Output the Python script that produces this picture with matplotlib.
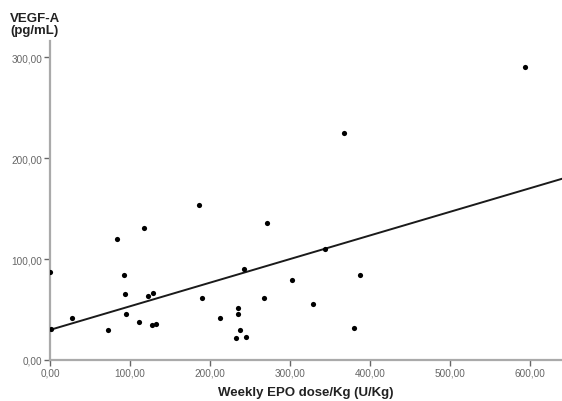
import numpy as np
import matplotlib.pyplot as plt
from matplotlib.ticker import FuncFormatter

plt.rcParams['font.family'] = ['Liberation Sans', 'DejaVu Sans']

# weekly EPO dose per kg (U/Kg) and VEGF-A (pg/mL)
epo_dose = [0, 1, 27, 72, 84, 92, 94, 95, 111, 118, 122, 129, 127, 132,
            186, 190, 212, 235, 235, 233, 237, 245, 242, 267, 271,
            303, 329, 344, 380, 388, 594, 367]
vegf_a = [87, 31, 42, 30, 120, 84, 65, 46, 38, 131, 63, 66, 35, 36,
          154, 61, 42, 52, 46, 22, 30, 23, 90, 61, 136,
          79, 55, 110, 32, 84, 290, 225]

x_ticks = [0, 100, 200, 300, 400, 500, 600]
y_ticks = [0, 100, 200, 300]

fig = plt.figure(figsize=(5.62, 4.02), dpi=100)
ax = fig.add_axes([50 / 562, 41 / 402, 512 / 562, 319 / 402])

ax.scatter(epo_dose, vegf_a, s=14, color='black', zorder=3, linewidths=0)

# linear fit line
slope, intercept = np.polyfit(epo_dose, vegf_a, 1)
xs = np.array([0, 640])
ax.plot(xs, intercept + slope * xs, color='#1a1a1a', lw=1.4)

ax.set_xlim(0, 640)
ax.set_ylim(0, 316)
ax.set_xticks(x_ticks)
ax.set_yticks(y_ticks)
fmt = FuncFormatter(lambda v, p: f"{v:.2f}".replace('.', ','))
ax.xaxis.set_major_formatter(fmt)
ax.yaxis.set_major_formatter(fmt)
ax.tick_params(labelsize=7.2, colors='#666666', length=4, width=1, pad=1.5)

for side in ['top', 'right']:
    ax.spines[side].set_visible(False)
for side in ['left', 'bottom']:
    ax.spines[side].set_color('#aaaaaa')
    ax.spines[side].set_linewidth(1.6)

ax.set_xlabel('Weekly EPO dose/Kg (U/Kg)', fontsize=9.5, fontweight='bold',
              color='#222222', labelpad=6)
fig.text(10 / 562, 1 - 13 / 402, 'VEGF-A\n(pg/mL)', ha='left', va='top',
         fontsize=9.5, fontweight='bold', color='#222222', linespacing=1.05)

fig.savefig('out.png', dpi=100)
